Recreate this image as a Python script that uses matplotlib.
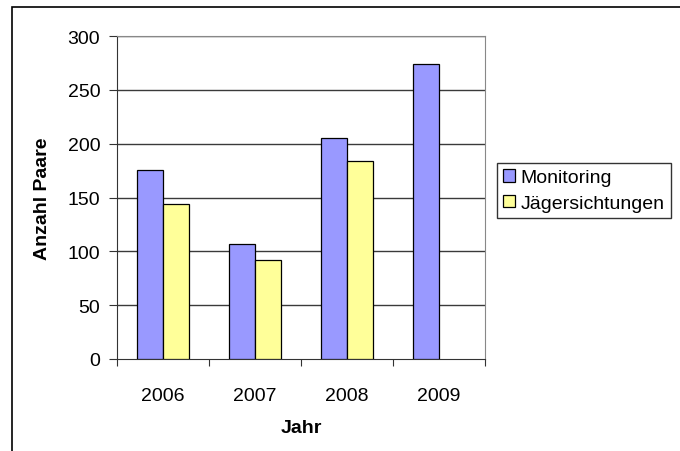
import matplotlib
matplotlib.use("Agg")
import matplotlib.pyplot as plt
import numpy as np
from matplotlib.patches import Rectangle

plt.rcParams['font.family'] = ['Liberation Sans', 'DejaVu Sans']

years = ['2006', '2007', '2008', '2009']
monitoring = [176, 107, 205, 274]
jaeger = [144, 92, 184, 0]

fig = plt.figure(figsize=(6.8, 4.52), dpi=100)
# outer chart frame (right/bottom edges fall outside the image)
fig.patches.append(Rectangle((12 / 680, -0.1), 1.2, 1 - 8 / 452 + 0.1,
                             transform=fig.transFigure, fill=False,
                             edgecolor='black', linewidth=1.2))

ax = fig.add_axes([117 / 680, 1 - 360 / 452, (485 - 117) / 680, (360 - 37) / 452])

x = np.arange(len(years))
w = 0.283
ax.bar(x - w / 2, monitoring, w, color='#9999ff', edgecolor='black', linewidth=0.9,
       label='Monitoring', zorder=3)
ax.bar(x[:3] + w / 2, jaeger[:3], w, color='#ffff99', edgecolor='black', linewidth=0.9,
       label='Jägersichtungen', zorder=3)

ax.set_xlim(-0.5, 3.5)
ax.set_ylim(0, 300)
ax.set_yticks(range(0, 301, 50))
for v in range(50, 301, 50):
    ax.axhline(v, color='#3a3a3a', linewidth=1, zorder=1)

ax.set_xticks(np.arange(-0.5, 4, 1))
ax.set_xticklabels([])
ax.set_xticks(x, minor=True)
ax.set_xticklabels(years, minor=True)
ax.tick_params(axis='x', which='major', direction='out', length=5, color='#333333')
ax.tick_params(axis='x', which='minor', length=0, pad=20, labelsize=14)
ax.tick_params(axis='y', direction='out', length=6, color='#333333', pad=6, labelsize=14)

for s in ['top', 'right']:
    ax.spines[s].set_color('#888888')
for s in ['left', 'bottom']:
    ax.spines[s].set_color('#333333')

ax.set_xlabel('Jahr', fontweight='bold', fontsize=14, labelpad=11)
ax.set_ylabel('Anzahl Paare', fontweight='bold', fontsize=14, labelpad=12)

leg = ax.legend(loc='upper left', bbox_to_anchor=(497 / 680, 1 - 164 / 452),
                bbox_transform=fig.transFigure, frameon=True, fancybox=False,
                fontsize=14, handlelength=0.6, handleheight=0.6, handletextpad=0.3,
                borderpad=0.32, labelspacing=0.45, borderaxespad=0)
leg.get_frame().set_edgecolor('black')
leg.get_frame().set_linewidth(1)

fig.savefig('out.png', dpi=100)
